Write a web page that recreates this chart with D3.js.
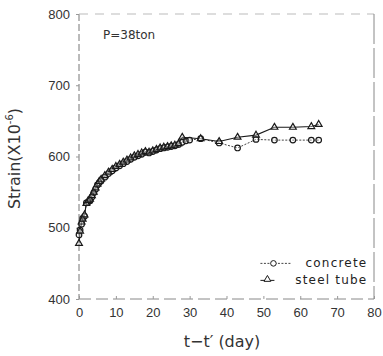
<!DOCTYPE html>
<html>
<head>
<meta charset="utf-8">
<script src="https://cdn.jsdelivr.net/npm/d3@7"></script>
<style>
  body { margin: 0; background: #fff; }
  svg { display: block; font-family: "DejaVu Sans", sans-serif; }
</style>
</head>
<body>
<div id="chart"></div>
<script>
// values
const concreteDays = [0, 0.3, 0.7, 1, 1.5, 2, 2.5, 3, 3.5, 4, 4.5, 5, 5.5, 6, 7, 8, 9, 10, 11, 12, 13, 14, 15, 16, 17, 18, 19, 20, 21, 22, 23, 24, 25, 26, 27, 28, 29, 30, 33, 38, 43, 48, 53, 58, 63, 65]
const concreteStrain = [490, 497, 505, 513, 516, 535, 536, 538, 543, 549, 554, 560, 563, 566, 571, 576, 580, 584, 587, 590, 593, 596, 599, 601, 603, 606, 605, 607, 609, 611, 612, 613, 614, 615, 617, 620, 622, 623, 625, 619, 612, 624, 623, 623, 623, 623]
const steelDays = [0, 0.3, 0.7, 1, 1.5, 2, 2.5, 3, 3.5, 4, 4.5, 5, 5.5, 6, 7, 8, 9, 10, 11, 12, 13, 14, 15, 16, 17, 18, 19, 20, 21, 22, 23, 24, 25, 26, 27, 28, 33, 38, 43, 48, 53, 58, 63, 65]
const steelStrain = [478, 495, 508, 512, 518, 534, 538, 540, 545, 550, 556, 561, 565, 568, 573, 578, 582, 586, 589, 592, 595, 598, 601, 603, 605, 607, 606, 608, 610, 612, 613, 614, 615, 616, 618, 627, 625, 621, 627, 630, 641, 641, 642, 645]
const xTicks = [0, 10, 20, 30, 40, 50, 60, 70, 80]
const yTicks = [400, 500, 600, 700, 800]
const seriesNames = ['concrete', 'steel tube']

const width = 383, height = 356
const margin = {top: 14, right: 9, bottom: 57, left: 79}
const iw = width - margin.left - margin.right
const ih = height - margin.top - margin.bottom
const ink = '#1a1a1a'

const svg = d3.select('#chart').append('svg')
    .attr('width', width).attr('height', height)
const g = svg.append('g').attr('transform', `translate(${margin.left},${margin.top})`)

const x = d3.scaleLinear().domain([0, 80]).range([0, iw])
const y = d3.scaleLinear().domain([400, 800]).range([ih, 0])

// faint scanned frame
g.append('line').attr('x1', 0).attr('x2', 0).attr('y1', 0).attr('y2', ih)
    .attr('stroke', '#777').attr('stroke-dasharray', '7,3')
g.append('line').attr('x1', 0).attr('x2', iw).attr('y1', 0).attr('y2', 0)
    .attr('stroke', '#bbb').attr('stroke-dasharray', '9,7')
g.append('line').attr('x1', iw).attr('x2', iw).attr('y1', 0).attr('y2', ih)
    .attr('stroke', '#888').attr('stroke-dasharray', '30,4')
g.append('line').attr('x1', 0).attr('x2', iw).attr('y1', ih).attr('y2', ih)
    .attr('stroke', '#888').attr('stroke-dasharray', '12,5')

// axes
const xAxis = g.append('g').attr('transform', `translate(0,${ih})`)
    .call(d3.axisBottom(x).tickValues(xTicks).tickSize(-3).tickPadding(9))
xAxis.select('.domain').remove()
xAxis.selectAll('line').attr('stroke', '#999')
xAxis.selectAll('text').attr('font-size', 13).attr('fill', '#333')

const yAxis = g.append('g')
    .call(d3.axisLeft(y).tickValues(yTicks).tickSize(3).tickPadding(6))
yAxis.select('.domain').remove()
yAxis.selectAll('line').attr('stroke', '#999')
yAxis.selectAll('text').attr('font-size', 13).attr('fill', '#333')

// axis titles
const yTitle = svg.append('text')
    .attr('transform', `translate(20,${margin.top + ih / 2 + 2}) rotate(-90)`)
    .attr('text-anchor', 'middle').attr('font-size', 16).attr('fill', '#333')
yTitle.append('tspan').text('Strain(X10')
yTitle.append('tspan').attr('font-size', 10).attr('dy', -7).text('-6')
yTitle.append('tspan').attr('dy', 7).text(')')

svg.append('text')
    .attr('x', 222).attr('y', 347)
    .attr('text-anchor', 'middle').attr('font-size', 16).attr('fill', '#333')
    .text('t\u2212t\u2032 (day)')

g.append('text').attr('x', x(6.5)).attr('y', y(765))
    .attr('font-size', 12).attr('fill', '#333').text('P=38ton')

// series
const line = d3.line().x((d) => x(d[0])).y((d) => y(d[1]))
const concrete = concreteDays.map((d, i) => [d, concreteStrain[i]])
const steel = steelDays.map((d, i) => [d, steelStrain[i]])

g.append('path').datum(concrete).attr('d', line)
    .attr('fill', 'none').attr('stroke', '#444').attr('stroke-dasharray', '2,1.5')
g.append('path').datum(steel).attr('d', line)
    .attr('fill', 'none').attr('stroke', ink).attr('stroke-width', 1.1)

const tri = d3.symbol().type(d3.symbolTriangle).size(20)
g.selectAll('circle.c').data(concrete).enter().append('circle')
    .attr('class', 'c')
    .attr('cx', (d) => x(d[0])).attr('cy', (d) => y(d[1])).attr('r', 2.8)
    .attr('fill', 'white').attr('fill-opacity', 0.3)
    .attr('stroke', ink).attr('stroke-width', 1.2)
g.selectAll('path.s').data(steel).enter().append('path')
    .attr('class', 's').attr('d', tri)
    .attr('transform', (d) => `translate(${x(d[0])},${y(d[1])})`)
    .attr('fill', 'white').attr('fill-opacity', 0.3)
    .attr('stroke', ink).attr('stroke-width', 1.2)

// legend
const lg = g.append('g').attr('transform', `translate(${x(49.2)},${y(450)})`)
lg.append('line').attr('x1', 0).attr('x2', 30).attr('y1', 0).attr('y2', 0)
    .attr('stroke', '#444').attr('stroke-dasharray', '2,1.5')
lg.append('circle').attr('cx', 13).attr('cy', 0).attr('r', 2.8)
    .attr('fill', 'white').attr('stroke', ink)
lg.append('line').attr('x1', 0).attr('x2', 14).attr('y1', 17).attr('y2', 17)
    .attr('stroke', ink)
lg.append('path').attr('d', tri).attr('transform', 'translate(7,16)')
    .attr('fill', 'white').attr('stroke', ink)
lg.selectAll('text').data(seriesNames).enter().append('text')
    .attr('x', 107).attr('y', (d, i) => i * 17 + 4)
    .attr('text-anchor', 'end').attr('font-size', 12).attr('fill', '#222')
    .attr('letter-spacing', 1.2)
    .text((d) => d)
</script>
</body>
</html>
